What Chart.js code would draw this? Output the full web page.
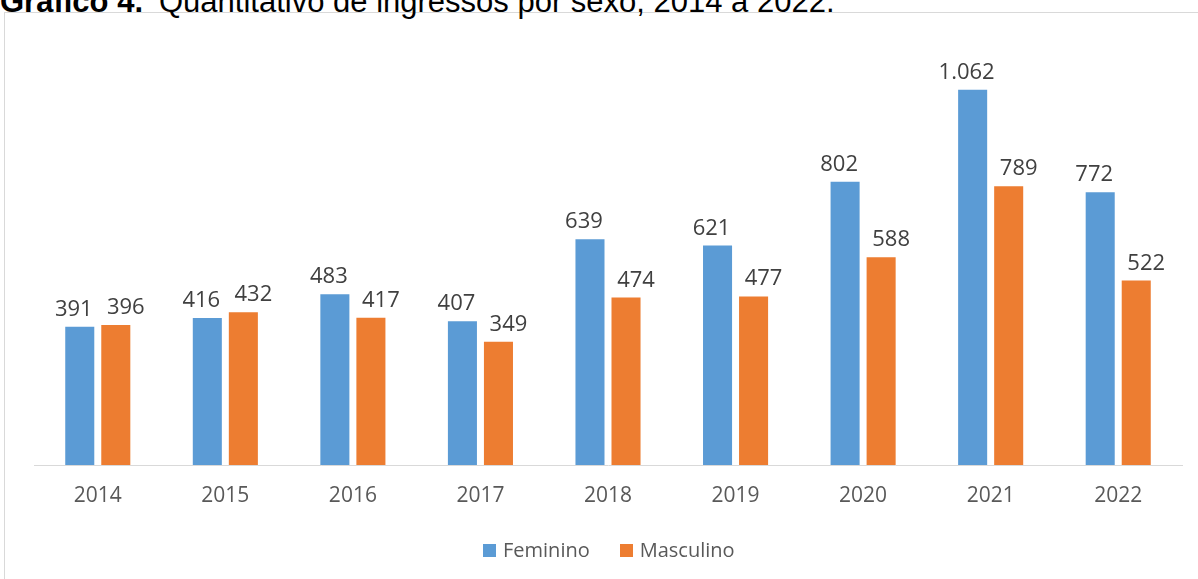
<!DOCTYPE html>
<html>
<head>
<meta charset="utf-8">
<script src="https://cdn.jsdelivr.net/npm/chart.js@4.4.1/dist/chart.umd.min.js"></script>
<style>
  html, body { margin: 0; padding: 0; background: #fff; overflow: hidden; }
  #wrap { position: relative; width: 1198px; height: 579px; }
  #frame { position: absolute; left: 4px; top: 12px; width: 1400px; height: 800px;
           border-left: 1px solid #d9d9d9; border-top: 1px solid #d9d9d9; }
  #title { position: absolute; left: 0; top: -14px; font: 31px/31px "Liberation Sans", Arial, sans-serif;
           color: #000; white-space: nowrap; }
  #title b { margin-right: 16px; }
  canvas { position: absolute; left: 0; top: 0; }
  #legend { position: absolute; left: 483px; top: 537px; display: flex; gap: 30px;
            font: 20px/26px "Open Sans", sans-serif; color: #595959; }
  #legend span.item { display: flex; align-items: center; }
  #legend i { display: inline-block; width: 13px; height: 13px; margin-right: 7px; }
</style>
</head>
<body>
<div id="wrap">
  <div id="frame"></div>
  <div id="title"><b>Gráfico 4.</b>Quantitativo de ingressos por sexo, 2014 a 2022.</div>
  <canvas id="chart" width="1198" height="579"></canvas>
  <div id="legend"></div>
</div>
<script>
const years = ['2014', '2015', '2016', '2017', '2018', '2019', '2020', '2021', '2022'];
const feminino = [391, 416, 483, 407, 639, 621, 802, 1062, 772];
const masculino = [396, 432, 417, 349, 474, 477, 588, 789, 522];

// thousands separator like the original (1.062)
function fmt(v) {
  return String(v).replace(/\B(?=(\d{3})+(?!\d))/g, '.');
}

// draws the value above each bar
const valueLabels = {
  id: 'valueLabels',
  afterDatasetsDraw(chart) {
    const ctx = chart.ctx;
    ctx.save();
    ctx.font = '22px "Open Sans", sans-serif';
    ctx.fillStyle = '#404040';
    ctx.textAlign = 'center';
    ctx.textBaseline = 'alphabetic';
    chart.data.datasets.forEach((ds, i) => {
      const meta = chart.getDatasetMeta(i);
      meta.data.forEach((bar, j) => {
        ctx.fillText(fmt(ds.data[j]), bar.x + ds.labelShift, bar.y - 11);
      });
    });
    ctx.restore();
  }
};

const chart = new Chart(document.getElementById('chart').getContext('2d'), {
  type: 'bar',
  data: {
    labels: years,
    datasets: [
      { label: 'Feminino', data: feminino, backgroundColor: '#5B9BD5', labelShift: -6 },
      { label: 'Masculino', data: masculino, backgroundColor: '#ED7D31', labelShift: 10 }
    ]
  },
  options: {
    responsive: false,
    animation: false,
    categoryPercentage: 0.565,
    barPercentage: 0.806,
    layout: { padding: { left: 34, right: 16, top: 41, bottom: 52.8 } },
    scales: {
      x: {
        grid: { display: false, drawTicks: false },
        border: { color: '#d9d9d9', width: 1 },
        ticks: { color: '#595959', font: { family: 'Open Sans', size: 21 }, padding: 18 }
      },
      y: { display: false, min: 0, max: 1200 }
    },
    plugins: {
      legend: { display: false },
      tooltip: { enabled: false }
    }
  },
  plugins: [valueLabels]
});

// legend below the axis
const legend = document.getElementById('legend');
chart.data.datasets.forEach(ds => {
  const item = document.createElement('span');
  item.className = 'item';
  item.innerHTML = `<i style="background:${ds.backgroundColor}"></i>${ds.label}`;
  legend.appendChild(item);
});
</script>
</body>
</html>
